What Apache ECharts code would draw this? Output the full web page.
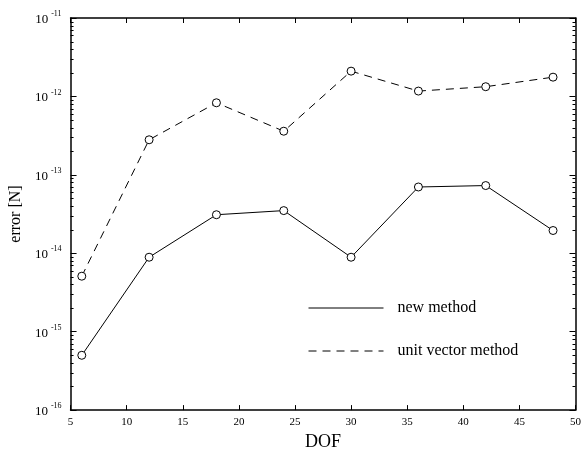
<!DOCTYPE html>
<html>
<head>
<meta charset="utf-8">
<script src="https://cdn.jsdelivr.net/npm/echarts@6/dist/echarts.min.js"></script>
<style>
html,body{margin:0;padding:0;background:#fff;}
#c{width:584px;height:456px;}
</style>
</head>
<body>
<div id="c"></div>
<script>
// ---- data ----
var dof = [6, 12, 18, 24, 30, 36, 42, 48];
var newMethod = [5.0e-16, 8.9e-15, 3.1e-14, 3.5e-14, 8.9e-15, 7.0e-14, 7.3e-14, 1.95e-14];
var unitVectorMethod = [5.1e-15, 2.8e-13, 8.3e-13, 3.6e-13, 2.1e-12, 1.17e-12, 1.33e-12, 1.76e-12];
var seriesNames = ['new method', 'unit vector method'];
var xTicks = [5, 10, 15, 20, 25, 30, 35, 40, 45, 50];
var yTickExps = [-16, -15, -14, -13, -12, -11];
var minorMultipliers = [2, 3, 4, 5, 6, 7, 8, 9];

function pairs(xs, ys) { return xs.map(function (x, i) { return [x, ys[i]]; }); }

var FONT = '"Liberation Serif", "DejaVu Serif", serif';
var chart = echarts.init(document.getElementById('c'), null, {renderer: 'canvas'});

var yMin = Math.pow(10, yTickExps[0]);
var yMax = Math.pow(10, yTickExps[yTickExps.length - 1]);

var yLabel = {
  show: true,
  margin: 9,
  fontFamily: FONT,
  formatter: function (v) {
    var e = Math.round(Math.log10(v));
    return '{b|10}{s|' + e + '}';
  },
  rich: {
    b: {fontSize: 13, fontFamily: FONT, color: '#000', lineHeight: 16, verticalAlign: 'bottom'},
    s: {fontSize: 8, fontFamily: FONT, color: '#000', padding: [0, 0, 0, 3], lineHeight: 16, verticalAlign: 'top'}
  }
};

var option = {
  backgroundColor: '#fff',
  animation: false,
  grid: {left: 62, right: 6, top: 18, bottom: 31, containLabel: false},
  legend: {
    orient: 'vertical',
    left: 308,
    top: 300,
    padding: 0,
    itemWidth: 75,
    itemHeight: 16,
    itemGap: 27,
    icon: 'inherit',
    data: seriesNames,
    itemStyle: {opacity: 0},
    lineStyle: {width: 1},
    textStyle: {fontFamily: FONT, fontSize: 16, color: '#000', padding: [0, 0, 0, 9]}
  },
  xAxis: [{
    type: 'value', min: 5, max: 50, interval: 5, position: 'bottom',
    name: 'DOF', nameLocation: 'middle', nameGap: 18,
    nameTextStyle: {fontFamily: FONT, fontSize: 18, color: '#000'},
    axisLine: {show: true, lineStyle: {color: '#000', width: 1.5}},
    axisTick: {show: true, inside: true, length: 5, lineStyle: {color: '#000', width: 1}},
    axisLabel: {show: true, margin: 7, fontFamily: FONT, fontSize: 11, color: '#000',
      formatter: function (v) { return xTicks.indexOf(v) >= 0 ? String(v) : ''; }},
    splitLine: {show: false}
  }, {
    type: 'value', min: 5, max: 50, interval: 5, position: 'top',
    axisLine: {show: true, lineStyle: {color: '#000', width: 1.5}},
    axisTick: {show: true, inside: true, length: 5, lineStyle: {color: '#000', width: 1}},
    axisLabel: {show: false},
    splitLine: {show: false}
  }],
  yAxis: [{
    type: 'log', logBase: 10, min: yMin, max: yMax,
    interval: 1, position: 'left',
    name: 'error [N]', nameLocation: 'middle', nameGap: 35, nameRotate: 90,
    nameTextStyle: {fontFamily: FONT, fontSize: 16, color: '#000'},
    axisLine: {show: true, lineStyle: {color: '#000', width: 1.5}},
    axisTick: {show: true, inside: true, length: 6, lineStyle: {color: '#000', width: 1}},
    minorTick: {show: false},
    axisLabel: yLabel,
    splitLine: {show: false},
    minorSplitLine: {show: false}
  }, {
    type: 'log', logBase: 10, min: yMin, max: yMax,
    interval: 1, position: 'right',
    axisLine: {show: true, lineStyle: {color: '#000', width: 1.5}},
    axisTick: {show: true, inside: true, length: 6, lineStyle: {color: '#000', width: 1}},
    minorTick: {show: false},
    axisLabel: {show: false},
    splitLine: {show: false}
  }],
  series: [{
    name: seriesNames[0], type: 'line', xAxisIndex: 0, yAxisIndex: 0,
    data: pairs(dof, newMethod),
    symbol: 'circle', symbolSize: 8,
    lineStyle: {color: '#000', width: 1, type: 'solid'},
    itemStyle: {color: '#fff', borderColor: '#000', borderWidth: 1}
  }, {
    name: seriesNames[1], type: 'line', xAxisIndex: 0, yAxisIndex: 0,
    data: pairs(dof, unitVectorMethod),
    symbol: 'circle', symbolSize: 8,
    lineStyle: {color: '#000', width: 1, type: [8, 6]},
    itemStyle: {color: '#fff', borderColor: '#000', borderWidth: 1}
  }]
};
chart.setOption(option);

// logarithmic minor ticks on left and right y axes, positioned through the axis scale
var xl = chart.convertToPixel({xAxisIndex: 0}, 5);
var xr = chart.convertToPixel({xAxisIndex: 0}, 50);
var ticks = [];
for (var i = 0; i < yTickExps.length - 1; i++) {
  for (var j = 0; j < minorMultipliers.length; j++) {
    var v = minorMultipliers[j] * Math.pow(10, yTickExps[i]);
    var y = Math.round(chart.convertToPixel({yAxisIndex: 0}, v)) + 0.5;
    ticks.push({type: 'line', silent: true, shape: {x1: xl, y1: y, x2: xl + 3, y2: y}, style: {stroke: '#000', lineWidth: 1}});
    ticks.push({type: 'line', silent: true, shape: {x1: xr, y1: y, x2: xr - 3, y2: y}, style: {stroke: '#000', lineWidth: 1}});
  }
}
chart.setOption({graphic: {elements: ticks}});
</script>
</body>
</html>
